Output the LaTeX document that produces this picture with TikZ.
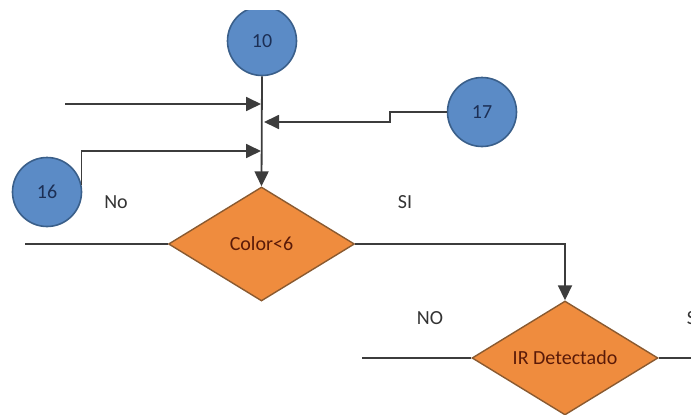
\documentclass[tikz,border=0pt]{standalone}
\usepackage{fontspec}
\setmainfont{Carlito}
\usetikzlibrary{shapes.geometric,arrows.meta}
\definecolor{circfill}{HTML}{5B8BC6}
\definecolor{circline}{HTML}{3A5F8A}
\definecolor{circtext}{HTML}{1C2F55}
\definecolor{decfill}{HTML}{EF8C3E}
\definecolor{decline}{HTML}{8A5A30}
\definecolor{dectext}{HTML}{5A1A08}
\definecolor{wire}{HTML}{3C3C3C}
\tikzset{
  x=1pt, y=-1pt,
  txt/.style={font=\fontsize{20}{24}\selectfont},
  conn/.style={circle, draw=circline, line width=1.6pt, fill=circfill,
    minimum size=69pt, inner sep=0pt, text=circtext, txt},
  decision/.style={diamond, draw=decline, line width=1.4pt, fill=decfill,
    minimum width=186pt, minimum height=114pt, inner sep=0pt, aspect=1.63,
    text=dectext, txt},
  wireline/.style={draw=wire, line width=1.8pt},
  flow/.style={wireline, -{Triangle[length=15pt,width=14pt]}},
  lbl/.style={txt, text=black!80}
}
\begin{document}
\begin{tikzpicture}
\useasboundingbox (0,0) rectangle (691,415);
\begin{scope}
\clip (0,10) rectangle (691,415);
% connectors (circles)
\node[conn] (c10) at (262,41) {10};
\node[conn] (c17) at (482,112) {17};
\node[conn] (c16) at (47,192) {16};
% decisions
\node[decision] (d1) at (261.5,244) {Color<6};
\node[decision] (d2) at (565,358) {IR Detectado};
% free ends of loose lines
\coordinate (inA) at (65,104);
\coordinate (j1) at (262,104);
\coordinate (j2) at (262,122);
\coordinate (j3) at (262,151);
\coordinate (outL) at (25,244);
\coordinate (inIR) at (362,358);
\coordinate (outR) at (691,358);
% main vertical flow
\draw[flow] (c10.south) -- (d1.north);
% incoming branches
\draw[flow] (inA) -- ([xshift=-1pt]j1);
\draw[flow] (c17.west) -- (390,112) -- (390,122) -- ([xshift=2pt]j2);
\draw[flow] (c16.12) |- ([xshift=-1pt]j3);
% outgoing branches
\draw[wireline] (d1.west) -- (outL);
\draw[flow] (d1.east) -| (d2.north);
\draw[wireline] (d2.west) -- (inIR);
\draw[wireline] (d2.east) -- (outR);
% branch labels
\node[lbl] (no1) at (116,202) {No};
\node[lbl] (si1) at (405,202) {SI};
\node[lbl] (no2) at (430,318) {NO};
\node[lbl] (si2) at (694,318) {SI};
\end{scope}
\end{tikzpicture}
\end{document}
